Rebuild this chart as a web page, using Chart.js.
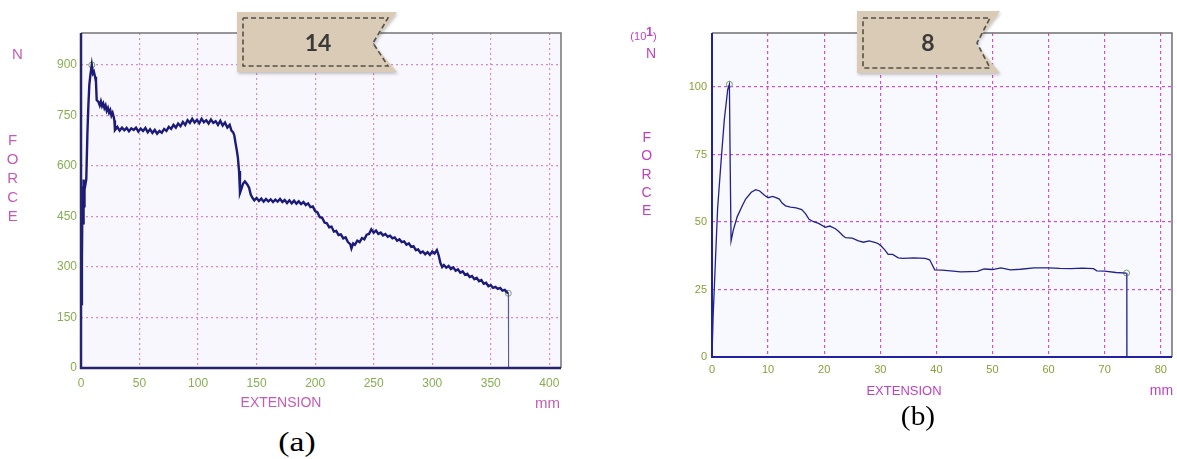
<!DOCTYPE html>
<html><head><meta charset="utf-8">
<script src="https://cdn.jsdelivr.net/npm/chart.js@4.4.1/dist/chart.umd.min.js"></script>
<style>
body{margin:0;background:#fff;width:1177px;height:459px;position:relative;overflow:hidden;font-family:"Liberation Sans",Arial,sans-serif}
.box{position:absolute}
.t{position:absolute;white-space:nowrap;line-height:1;transform:translate(-50%,-50%)}
.force{position:absolute;text-align:center;transform:translateX(-50%)}
.force span{display:block}
.badge{position:absolute;filter:drop-shadow(1px 2px 1.5px rgba(0,0,0,.22))}
</style></head><body>

<div class="box" style="left:0;top:0"><canvas id="ca" width="580" height="420"></canvas></div>
<div class="box" style="left:620px;top:0"><canvas id="cb" width="557" height="420"></canvas></div>

<!-- (a) labels -->
<div class="t" style="left:17.5px;top:53px;font-size:15px;color:#c45cb6">N</div>
<div class="force" style="left:12.7px;top:131px;font-size:15px;line-height:18.9px;color:#c45cb6"><span>F</span><span>O</span><span>R</span><span>C</span><span>E</span></div>
<div class="t" style="left:281px;top:402px;font-size:14px;color:#c45cb6">EXTENSION</div>
<div class="t" style="left:547.5px;top:402px;font-size:15px;color:#c45cb6">mm</div>
<div class="t" style="left:297px;top:442px;font-size:28px;font-family:'Liberation Serif',serif;color:#000;transform:translate(-50%,-50%) scaleX(1.2)">(a)</div>

<!-- (b) labels -->
<div class="t" style="left:643.5px;top:36px;font-size:11px;color:#c040c0">(10<b style="font-size:12px;position:relative;top:-4px">1</b>)</div>
<div class="t" style="left:651px;top:52.5px;font-size:14px;color:#c040c0">N</div>
<div class="force" style="left:646.7px;top:128px;font-size:14px;line-height:18.3px;color:#c040c0"><span>F</span><span>O</span><span>R</span><span>C</span><span>E</span></div>
<div class="t" style="left:904px;top:390px;font-size:13px;color:#c040c0">EXTENSION</div>
<div class="t" style="left:1161.5px;top:390px;font-size:14px;color:#c040c0">mm</div>
<div class="t" style="left:917.5px;top:416px;font-size:28px;font-family:'Liberation Serif',serif;color:#000;transform:translate(-50%,-50%) scaleX(1.05)">(b)</div>

<!-- badges -->
<svg class="badge" style="left:237px;top:12px" width="162" height="62">
  <polygon points="0,0 160,0 135,31 160,60 0,60" fill="#d9cbb6"/>
  <polyline points="6,6 151,6 136,31 151,54 6,54 6,6" fill="none" stroke="#55504a" stroke-width="1.6" stroke-dasharray="5,3"/>
  <text x="81" y="39" text-anchor="middle" font-family="Lato,sans-serif" font-weight="bold" font-size="23" fill="#3c3a38">14</text>
</svg>
<svg class="badge" style="left:857px;top:11px" width="146" height="64">
  <polygon points="0,0 143,0 118,32 143,62 0,62" fill="#d9cbb6"/>
  <polyline points="6,7 133,7 120,32 133,57 6,57 6,7" fill="none" stroke="#55504a" stroke-width="1.6" stroke-dasharray="5,3"/>
  <text x="71" y="40" text-anchor="middle" font-family="Lato,sans-serif" font-weight="bold" font-size="23" fill="#3c3a38">8</text>
</svg>

<script>
// ── chart (a) data: extension (mm) vs force (N) ──────────────────────────────
const extA=[0.5,0.8,1.1,1.4,1.8,2.2,2.6,3,3.5,4.5,
  5.5,6.3,7.1,8,9.2,10.2,11,12,12.8,13.4,
  15,16,17,18,19,20,21,22,23,24,
  25,26,27,28,28.5,29,31,33,35,37,
  39,41,43,45,47,49,51,53,55,57,
  59,61,63,65,67,69,71,73,75,77,
  79,81,83,85,87,89,91,93,95,97,
  99,101,103,105,107,109,111,113,115,117,
  119,121,123,125,127,128.5,130,131,132,133,
  134,135,135.8,137,138.5,140,142,143.5,145,146.5,
  148,150,152,154,156,158,160,162,164,166,
  168,170,172,174,176,178,180,182,184,186,
  188,190,192,194,196,198,200,202,204,206,
  208,210,212,214,216,218,220,222,224,226,
  228,230,231,232.5,234,236,238,240,242,244,
  246,248,250,252,254,256,258,260,262,264,
  266,268,270,272,274,276,278,280,282,284,
  286,288,290,292,294,296,298,300,302,304,
  305.5,307,308.5,310,312,314,316,318,320,322,
  324,326,328,330,332,334,336,338,340,342,
  344,346,348,350,352,354,356,358,360,362,
  364,365,365.2];
const forceA=[190,320,450,540,430,560,480,550,540,560,
  700,780,840,870,900,875,880,865,850,796,
  790,780,792,778,786,772,780,764,772,758,
  766,750,758,745,735,707,716,705,714,706,
  713,703,712,707,714,702,711,704,713,700,
  709,698,707,696,704,699,710,704,716,710,
  722,714,726,718,731,722,736,728,740,729,
  737,727,740,730,736,726,738,728,733,722,
  734,720,729,714,722,705,700,690,668,648,
  625,585,520,532,548,554,545,536,515,505,
  498,505,496,503,494,502,495,501,493,500,
  494,502,493,499,490,498,489,497,488,495,
  487,493,484,489,478,480,466,462,448,446,
  432,430,418,420,405,407,395,397,385,388,
  374,368,355,370,366,378,374,386,382,396,
  398,412,402,408,398,402,394,398,390,393,
  385,388,378,382,374,376,366,370,360,362,
  350,352,342,346,338,344,336,346,340,350,
  335,312,300,306,298,303,294,299,289,293,
  283,287,277,280,270,273,264,268,258,261,
  250,253,243,246,238,241,235,238,230,232,
  224,222,0];
const markExtA=[9.2,365], markForceA=[900,222];
const xTicksA=[0,50,100,150,200,250,300,350,400];
const yTicksA=[0,150,300,450,600,750,900];

// ── chart (b) data: extension (mm) vs force (x10 N) ──────────────────────────
const extB=[0,0.2,0.5,1,1.6,2.2,2.8,3.1,3.25,3.4,
  3.8,4.5,5.4,6,7,7.8,8.5,9.3,10,10.8,
  11.4,12,12.5,13.1,14,15,16,16.7,17.3,18,
  19,20.2,21,22,22.6,23.3,23.8,25,26.1,27,
  28,29,29.6,30.2,30.8,31.4,32.2,33.2,34,36,
  38,38.8,39.3,39.7,41,43,44.3,46,47.3,48.5,
  50,51.5,53.2,55,57.4,60,62,64,66,68,
  68.6,70,72,73.9,73.95];
const forceB=[0,15,30,55,72,88,99,101,70,43,
  47,52,56,58.5,61,62,61.5,60,59,59.5,
  59,58.5,57,56,55.5,55.2,54.6,53,51,50.2,
  49.5,48,48.5,47.5,46.5,45,44.2,44,43,42.5,
  43,42.5,42,41,39.7,38,38,36.7,36.5,36.7,
  36.5,36,34,32.3,32.2,31.8,31.5,31.6,31.7,32.6,
  32.4,33,32.3,32.5,33,33,32.8,32.7,32.9,32.7,
  31.9,31.8,31.3,31.1,0];
const markExtB=[3.1,73.9], markForceB=[101,31.1];
const xTicksB=[0,10,20,30,40,50,60,70,80];
const yTicksB=[0,25,50,75,100];

// ── plot background + frame ──────────────────────────────────────────────────
const framePlugin={
  id:'frame',
  beforeDraw(ch,a,o){const c=ch.chartArea,ctx=ch.ctx;ctx.save();ctx.fillStyle=o.bg;ctx.fillRect(c.left,c.top,c.right-c.left,c.bottom-c.top);ctx.restore();},
  afterDraw(ch,a,o){
    const c=ch.chartArea,ctx=ch.ctx;ctx.save();
    ctx.strokeStyle=o.edge;ctx.lineWidth=o.edgeW;
    ctx.beginPath();ctx.moveTo(c.left,c.top);ctx.lineTo(c.right,c.top);ctx.lineTo(c.right,c.bottom);ctx.stroke();
    ctx.strokeStyle=o.axis;ctx.lineWidth=o.axisW;
    ctx.beginPath();ctx.moveTo(c.left,c.top);ctx.lineTo(c.left,c.bottom);ctx.lineTo(c.right,c.bottom);ctx.stroke();
    ctx.restore();
  }
};

function pts(xs,ys){return xs.map((x,i)=>({x,y:ys[i]}));}

function makeChart(id,o){
  const n=o.ext.length;
  return new Chart(document.getElementById(id),{
    type:'line',
    data:{datasets:[
      {data:pts(o.ext,o.force),borderColor:o.line,borderWidth:o.lw,pointRadius:0,tension:0,
       segment:{borderWidth:c=>c.p1DataIndex===n-1?1:o.lw,borderColor:c=>c.p1DataIndex===n-1?o.drop:o.line}},
      {data:pts(o.mx,o.my),showLine:false,pointRadius:3,pointBorderWidth:1,pointBorderColor:'#7fa060',pointBackgroundColor:'rgba(0,0,0,0)'}
    ]},
    options:{
      responsive:false,animation:false,
      layout:{padding:{top:33,right:o.padR,left:0,bottom:0}},
      plugins:{legend:{display:false},tooltip:{enabled:false},frame:o.frame},
      scales:{
        x:{type:'linear',min:0,max:o.xMax,
          afterBuildTicks:s=>{s.ticks=o.xTicks.map(v=>({value:v}));},
          afterFit:s=>{s.height=o.xH;},
          grid:{color:o.grid,lineWidth:o.gw,drawTicks:false},border:{display:false,dash:o.dash},
          ticks:{color:o.tick,font:{family:'Liberation Sans',size:o.fs},padding:o.xPad,maxRotation:0,autoSkip:false}},
        y:{type:'linear',min:0,max:o.yMax,
          afterBuildTicks:s=>{s.ticks=o.yTicks.map(v=>({value:v}));},
          afterFit:s=>{s.width=o.yW;},
          grid:{color:o.grid,lineWidth:o.gw,drawTicks:false},border:{display:false,dash:o.dash},
          ticks:{color:o.tick,font:{family:'Liberation Sans',size:o.fs},padding:o.yPad,autoSkip:false}}
      }
    },
    plugins:[framePlugin]
  });
}

makeChart('ca',{ext:extA,force:forceA,mx:markExtA,my:markForceA,xTicks:xTicksA,yTicks:yTicksA,
  xMax:410,yMax:995,padR:19,xH:52,yW:81,xPad:8,yPad:4,fs:12,
  line:'#1c1c78',drop:'#5858a8',lw:2.4,grid:'#d68ad6',gw:1.2,dash:[2,3],tick:'#86ae52',
  frame:{bg:'#f7f7fd',edge:'#767676',edgeW:1.5,axis:'#24246e',axisW:2.5}});

makeChart('cb',{ext:extB,force:forceB,mx:markExtB,my:markForceB,xTicks:xTicksB,yTicks:yTicksB,
  xMax:82,yMax:120,padR:3,xH:63,yW:92,xPad:6,yPad:5,fs:11,
  line:'#22228c',drop:'#4a4aa8',lw:1.3,grid:'#d050d0',gw:1.2,dash:[3,3],tick:'#8a9e38',
  frame:{bg:'#f8f8ff',edge:'#707070',edgeW:1.5,axis:'#2020a0',axisW:2}});
</script>
</body></html>
